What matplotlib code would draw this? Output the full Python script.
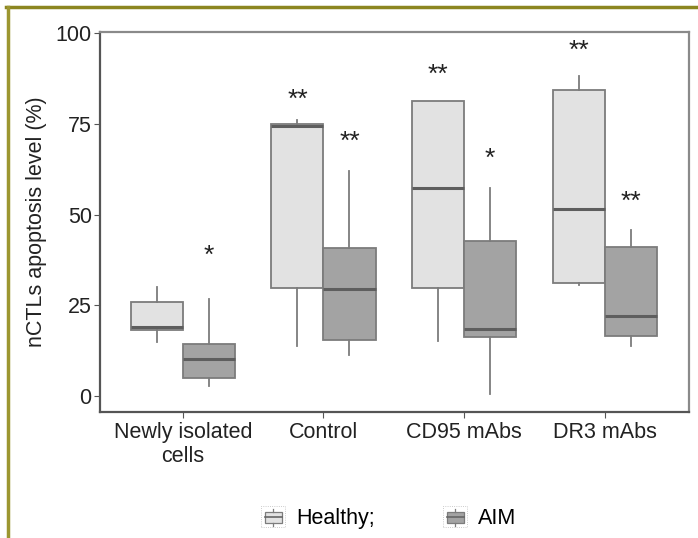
import matplotlib
matplotlib.use("Agg")
import matplotlib.pyplot as plt
from matplotlib.patches import Rectangle, Patch
from matplotlib.lines import Line2D
from matplotlib.legend_handler import HandlerBase

plt.rcParams['font.family'] = ['Liberation Sans', 'DejaVu Sans']

categories = ["Newly isolated\ncells", "Control", "CD95 mAbs", "DR3 mAbs"]

# five-number summaries per group
healthy_low = [14.8, 13.8, 15.2, 30.6]
healthy_q1 = [18.2, 29.9, 29.8, 31.3]
healthy_med = [19.1, 74.4, 57.5, 51.5]
healthy_q3 = [25.9, 74.9, 81.5, 84.3]
healthy_high = [30.1, 76.0, 81.5, 88.2]

aim_low = [2.8, 11.3, 0.5, 13.8]
aim_q1 = [4.9, 15.6, 16.2, 16.5]
aim_med = [10.2, 29.4, 18.6, 22.0]
aim_q3 = [14.5, 40.8, 42.8, 41.0]
aim_high = [26.9, 62.1, 57.5, 45.9]

# significance marks and the height they sit at
healthy_stars = ["", "**", "**", "**"]
healthy_star_y = [0, 81.8, 88.7, 95.1]
aim_stars = ["*", "**", "*", "**"]
aim_star_y = [38.8, 70.0, 65.4, 53.5]

light = "#e2e2e2"
dark = "#a3a3a3"
edge = "#7c7c7c"
fs = 15.5


def stats(low, q1, med, q3, high):
    return [dict(whislo=a, q1=b, med=c, q3=d, whishi=e, fliers=[])
            for a, b, c, d, e in zip(low, q1, med, q3, high)]


class BoxHandler(HandlerBase):
    def create_artists(self, legend, orig, xd, yd, w, h, fs, trans):
        fc = orig.get_facecolor()
        cx = xd + w / 2
        box = Rectangle((xd + w * 0.15, yd + h * 0.05), w * 0.7, h * 0.75,
                        facecolor=fc, edgecolor=edge, lw=0.9, transform=trans)
        med = Line2D([xd + w * 0.15, xd + w * 0.85], [yd + h * 0.42] * 2,
                     color="#666666", lw=1.2, transform=trans)
        top = Line2D([cx, cx], [yd + h * 0.8, yd + h * 1.0], color=edge, lw=0.9, transform=trans)
        bot = Line2D([cx, cx], [yd - h * 0.15, yd + h * 0.05], color=edge, lw=0.9, transform=trans)
        frame = Rectangle((xd, yd - h * 0.25), w, h * 1.4, facecolor="none",
                          edgecolor="#bbbbbb", lw=0.6, ls=":", transform=trans)
        return [frame, box, med, top, bot]


fig = plt.figure(figsize=(6.98, 5.38), dpi=100)
ax = fig.add_axes([0.1433, 0.2348, 0.987 - 0.1433, 0.9405 - 0.2348])

x = range(len(categories))
off = 0.185
width = 0.37
common = dict(showfliers=False, showcaps=False, patch_artist=True, widths=width,
              whiskerprops=dict(color=edge, lw=1.3),
              medianprops=dict(color="#5e5e5e", lw=2.2))

b1 = ax.bxp(stats(healthy_low, healthy_q1, healthy_med, healthy_q3, healthy_high),
            positions=[i - off for i in x],
            boxprops=dict(facecolor=light, edgecolor=edge, lw=1.3), **common)
b2 = ax.bxp(stats(aim_low, aim_q1, aim_med, aim_q3, aim_high),
            positions=[i + off for i in x],
            boxprops=dict(facecolor=dark, edgecolor=edge, lw=1.3), **common)

for i in x:
    if healthy_stars[i]:
        ax.text(i - off, healthy_star_y[i], healthy_stars[i], ha="center", va="center",
                fontsize=19, color="#222222")
    ax.text(i + off, aim_star_y[i], aim_stars[i], ha="center", va="center",
            fontsize=19, color="#222222")

ax.set_xlim(-0.59, 3.6)
ax.set_ylim(-4.3, 100.4)
ax.set_yticks([0, 25, 50, 75, 100])
ax.set_xticks(list(x))
ax.set_xticklabels(categories, fontsize=fs, color="#222222")
ax.tick_params(axis="y", labelsize=fs, labelcolor="#222222", length=4, color="#555555", pad=2)
ax.tick_params(axis="x", length=4, color="#555555")
ax.set_ylabel("nCTLs apoptosis level (%)", fontsize=fs, color="#222222", labelpad=6)

for side in ["left", "bottom"]:
    ax.spines[side].set_color("#555555")
    ax.spines[side].set_linewidth(1.6)
for side in ["top", "right"]:
    ax.spines[side].set_color("#8a8a8a")
    ax.spines[side].set_linewidth(1.6)

handles = [Patch(facecolor=light), Patch(facecolor=dark)]
fig.legend(handles, ["Healthy;", "AIM"], handler_map={Patch: BoxHandler()},
           loc="center", bbox_to_anchor=(0.557, 0.037), ncol=2, frameon=False,
           fontsize=fs, columnspacing=3.2, handlelength=1.1, handletextpad=0.5)

# olive frame lines on the top and left of the figure
fig.add_artist(Line2D([0.009, 1.0], [1 - 7 / 538] * 2, color="#8c8620", lw=2.5,
                      transform=fig.transFigure))
fig.add_artist(Line2D([0.011] * 2, [0.0, 1 - 7 / 538], color="#9c9630", lw=2.5,
                      transform=fig.transFigure))

fig.savefig("out.png", dpi=100)
